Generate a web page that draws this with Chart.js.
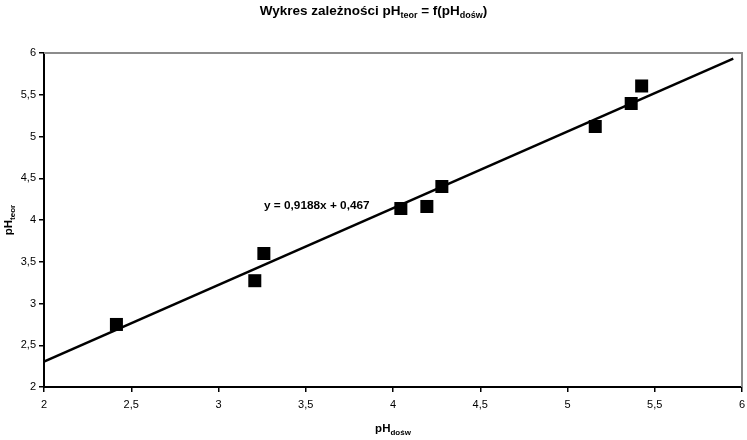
<!DOCTYPE html>
<html>
<head>
<meta charset="utf-8">
<script src="https://cdn.jsdelivr.net/npm/chart.js@4/dist/chart.umd.min.js"></script>
<style>
html,body{margin:0;padding:0;background:#fff;}
canvas{display:block;}
</style>
</head>
<body>
<canvas id="c" width="747" height="440"></canvas>
<script>
// ---- data ----
const pHdosw = [2.415, 3.208, 3.26, 4.045, 4.194, 4.28, 5.159, 5.365, 5.425];
const pHteor = [2.749, 3.273, 3.599, 4.138, 4.162, 4.401, 5.12, 5.395, 5.605];
const trendSlope = 0.9188;
const trendIntercept = 0.467;
const trendXRange = [2, 5.95];
const axisTicks = ['2', '2,5', '3', '3,5', '4', '4,5', '5', '5,5', '6'];
const equationText = 'y = 0,9188x + 0,467';
const titleParts = [['Wykres zależności pH', false], ['teor', true], [' = f(pH', false], ['dośw', true], [')', false]];
const xTitleParts = [['pH', false], ['dośw', true]];
const yTitleParts = [['pH', false], ['teor', true]];

const points = pHdosw.map((x, i) => ({x: x, y: pHteor[i]}));
const trendPoints = trendXRange.map(x => ({x: x, y: trendSlope * x + trendIntercept}));

const FONT = 'Liberation Sans, Arial, sans-serif';

function drawParts(ctx, parts, cx, cy, size, subSize) {
  let total = 0;
  const widths = parts.map(([t, sub]) => {
    ctx.font = 'bold ' + (sub ? subSize : size) + 'px ' + FONT;
    const w = ctx.measureText(t).width;
    total += w;
    return w;
  });
  let x = cx - total / 2;
  ctx.textAlign = 'left';
  ctx.textBaseline = 'alphabetic';
  parts.forEach(([t, sub], i) => {
    ctx.font = 'bold ' + (sub ? subSize : size) + 'px ' + FONT;
    ctx.fillText(t, x, cy + (sub ? 3 : 0));
    x += widths[i];
  });
}

const decor = {
  id: 'decor',
  beforeDatasetsDraw(chart) {
    const {ctx, chartArea: a} = chart;
    ctx.save();
    ctx.strokeStyle = '#8c8c8c';
    ctx.lineWidth = 2;
    ctx.beginPath();
    ctx.moveTo(a.left, a.top);
    ctx.lineTo(a.right, a.top);
    ctx.lineTo(a.right, a.bottom);
    ctx.stroke();
    ctx.restore();
  },
  afterDraw(chart) {
    const {ctx, chartArea: a} = chart;
    ctx.save();
    ctx.fillStyle = '#000';
    // main title
    drawParts(ctx, titleParts, chart.width / 2, 15, 13.5, 9);
    // x axis title
    drawParts(ctx, xTitleParts, (a.left + a.right) / 2, 432, 11.5, 8);
    // y axis title (rotated)
    ctx.save();
    ctx.translate(12, (a.top + a.bottom) / 2);
    ctx.rotate(-Math.PI / 2);
    drawParts(ctx, yTitleParts, 0, 0, 11.5, 8);
    ctx.restore();
    // equation label
    ctx.font = 'bold 11.8px ' + FONT;
    ctx.textAlign = 'left';
    ctx.textBaseline = 'middle';
    ctx.fillText(equationText, 264, 206);
    ctx.restore();
  }
};

const tickFmt = v => axisTicks[Math.round((v - 2) / 0.5)] ?? '';

new Chart(document.getElementById('c'), {
  type: 'scatter',
  data: {
    datasets: [
      {
        label: 'pH',
        data: points,
        pointStyle: 'rect',
        pointRadius: 9.2,
        pointHoverRadius: 9.2,
        borderWidth: 0,
        backgroundColor: '#000',
        borderColor: '#000'
      },
      {
        label: 'trend',
        data: trendPoints,
        showLine: true,
        pointRadius: 0,
        borderColor: '#000',
        borderWidth: 2.5,
        fill: false
      }
    ]
  },
  options: {
    responsive: false,
    animation: false,
    layout: {autoPadding: false, padding: {top: 53, right: 5, left: 0, bottom: 0}},
    plugins: {legend: {display: false}, title: {display: false}, tooltip: {enabled: false}},
    scales: {
      x: {
        type: 'linear', min: 2, max: 6,
        afterFit(s) { s.height = 53; s.paddingRight = 0; s.paddingLeft = 0; },
        ticks: {stepSize: 0.5, callback: tickFmt, color: '#000', font: {family: FONT, size: 11}, padding: 6, maxRotation: 0},
        grid: {display: true, drawOnChartArea: false, drawTicks: true, tickLength: 5, color: '#000', lineWidth: 1.5},
        border: {display: true, color: '#000', width: 2}
      },
      y: {
        type: 'linear', min: 2, max: 6,
        afterFit(s) { s.width = 44; s.paddingTop = 0; s.paddingBottom = 0; },
        ticks: {stepSize: 0.5, callback: tickFmt, color: '#000', font: {family: FONT, size: 11}, padding: 3},
        grid: {display: true, drawOnChartArea: false, drawTicks: true, tickLength: 5, color: '#000', lineWidth: 1.5},
        border: {display: true, color: '#000', width: 2}
      }
    }
  },
  plugins: [decor]
});
</script>
</body>
</html>
